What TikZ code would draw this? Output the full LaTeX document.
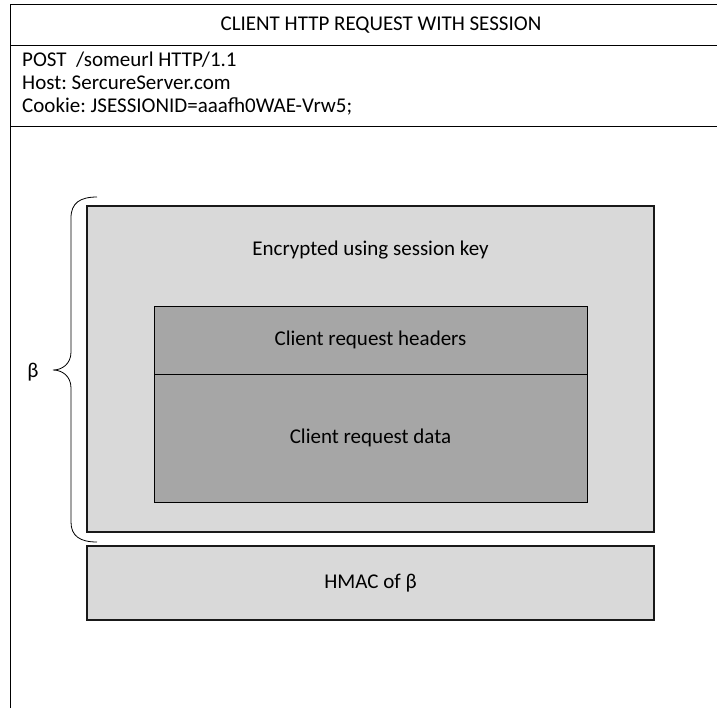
\documentclass[tikz,border=0pt]{standalone}
\usepackage{fontspec}
\setmainfont{Carlito}
\frenchspacing
\begin{document}
\begin{tikzpicture}[x=1pt,y=-1pt,
  lbl/.style={font=\fontsize{21}{25}\selectfont, inner sep=0pt},
  outerbox/.style={draw=black!90, line width=1.1pt, fill=light, inner sep=0pt},
  innerbox/.style={draw=black, line width=0.8pt, fill=dark, inner sep=0pt},
  frame/.style={draw=black, line width=1pt}]
\definecolor{light}{HTML}{D9D9D9}
\definecolor{dark}{HTML}{A6A6A6}
\useasboundingbox (0,0) rectangle (717,710);

% outer frame of the request
\draw[frame] (10.5,708) -- (10.5,4.5) -- (717,4.5);
\draw[frame] (10.5,45.5) -- (717,45.5);
\draw[frame] (10.5,126) -- (717,126);

\node[lbl] (title) at (381,25) {CLIENT HTTP REQUEST WITH SESSION};
\node[lbl, anchor=west] (l1) at (22,60) {POST\ \ /someurl HTTP/1.1};
\node[lbl, anchor=west] (l2) at (22,83) {Host: SercureServer.com};
\node[lbl, anchor=west] (l3) at (22,106) {Cookie: JSESSIONID=aaafh0WAE-Vrw5;};

% encrypted payload
\node[outerbox, minimum width=567pt, minimum height=326pt] (enc) at (370.5,369) {};
\node[lbl] (enclbl) at (370.5,250) {Encrypted using session key};
\node[innerbox, minimum width=433pt, minimum height=68pt] (hdr) at (370.5,340) {};
\node[innerbox, minimum width=433pt, minimum height=128pt] (data) at (370.5,438) {};
\node[lbl] at (hdr.center) {Client request headers};
\node[lbl] at (data.center) {Client request data};

% HMAC block
\node[outerbox, minimum width=567pt, minimum height=74pt] (hmac) at (370.5,583) {};
\node[lbl] at (hmac.center) {HMAC of β};

% brace marking beta
\draw[line width=0.8pt] (97,197) .. controls (80,197) and (71,203) .. (71,218)
  -- (71,352) .. controls (71,364) and (62,370) .. (53,370)
  .. controls (62,370) and (71,376) .. (71,388)
  -- (71,522) .. controls (71,536) and (80,542) .. (97,542);
\node[lbl] (beta) at (33,372) {β};
\end{tikzpicture}
\end{document}
